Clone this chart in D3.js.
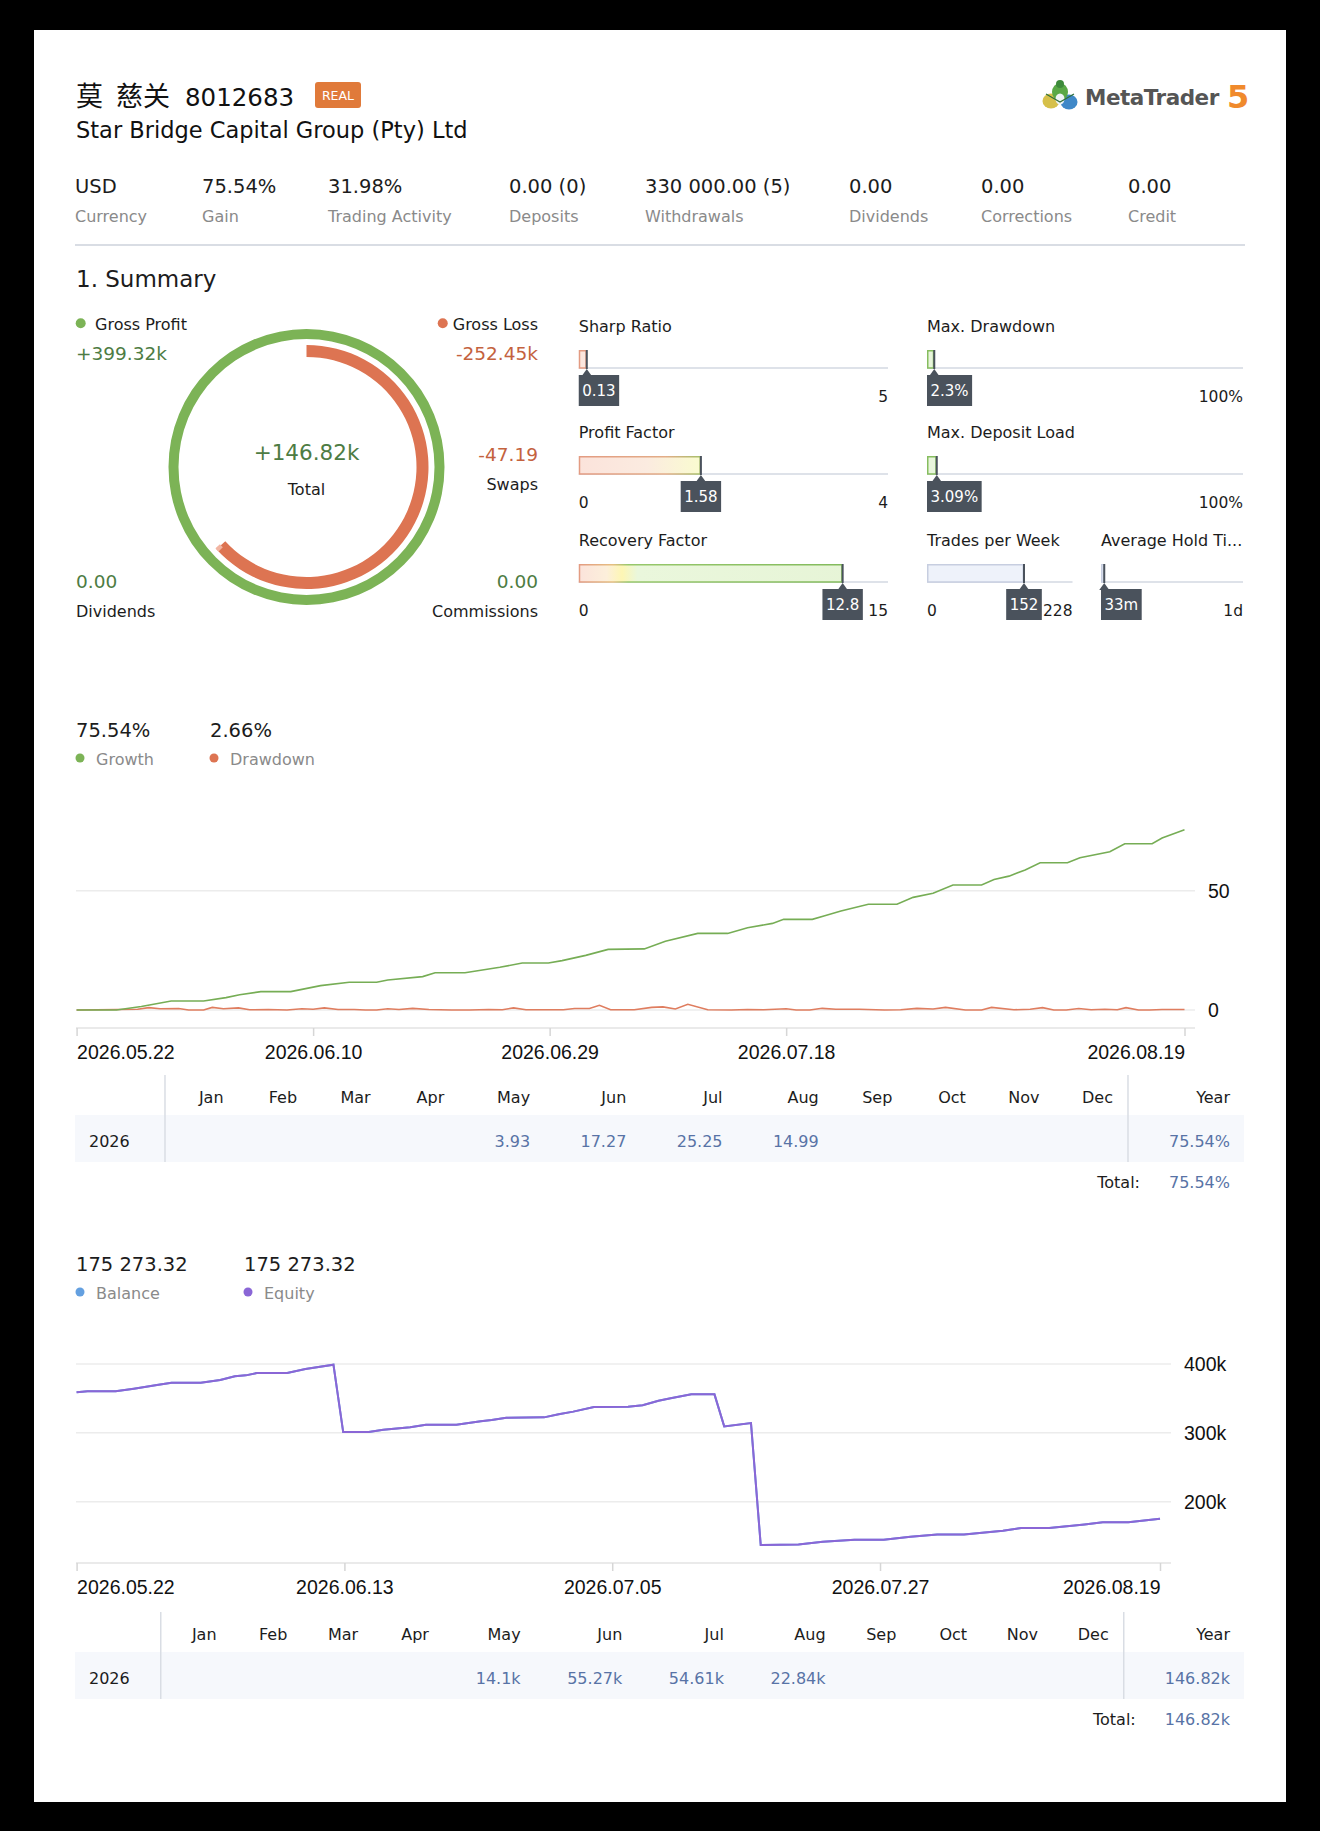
<!DOCTYPE html>
<html>
<head>
<meta charset="utf-8">
<script src="https://cdn.jsdelivr.net/npm/d3@7"></script>
<style>
  html, body { margin: 0; padding: 0; background: #000; }
  svg { display: block; }
  text { font-family: "DejaVu Sans", "Noto Sans CJK SC", sans-serif; }
  .axis text { font-family: "Liberation Sans", Arial, sans-serif; }
</style>
</head>
<body>
<svg id="svg" width="1320" height="1831"></svg>
<script>
// ── Data ──────────────────────────────────────────────────────────────────────

const accountName = ['莫', '慈关'];
const accountId   = '8012683';
const brokerName  = 'Star Bridge Capital Group (Pty) Ltd';

const statValues = ['USD', '75.54%', '31.98%', '0.00 (0)', '330 000.00 (5)', '0.00', '0.00', '0.00'];
const statLabels = ['Currency', 'Gain', 'Trading Activity', 'Deposits', 'Withdrawals', 'Dividends', 'Corrections', 'Credit'];

const grossProfit = 399.32;   // thousands
const grossLoss   = -252.45;  // thousands
const totalProfit = 146.82;   // thousands
const swaps       = -47.19;
const dividends   = 0;
const commissions = 0;

const metricNames     = ['Sharp Ratio', 'Profit Factor', 'Recovery Factor', 'Max. Drawdown', 'Max. Deposit Load', 'Trades per Week', 'Average Hold Ti...'];
const metricValues    = [0.13, 1.58, 12.8, 2.3, 3.09, 152, 33];
const metricMax       = [5, 4, 15, 100, 100, 228, 1440];
const metricValueText = ['0.13', '1.58', '12.8', '2.3%', '3.09%', '152', '33m'];
const metricMinText   = ['0', '0', '0', '0', '0', '0', '0'];
const metricMaxText   = ['5', '4', '15', '100%', '100%', '228', '1d'];

const growthFinal   = 75.54;
const drawdownFinal = 2.66;

// day offsets from 2026-05-22
const growthDays   = [0, 3.2, 5.2, 7.6, 10.2, 12, 13.1, 14.8, 17.2, 19.6, 21.9, 24.1, 25, 27.8, 28.8, 31.2, 34, 35.8, 37.9, 39, 40.9, 42.7, 45.6, 47.3, 49.9, 52.3, 53.9, 55.9, 56.8, 59.1, 60.1, 61.4, 63.6, 65.9, 67.2, 68.8, 70.4, 72.7, 73.7, 74.9, 76.2, 77.4, 79.6, 80.6, 83, 84.2, 86.4, 87.2, 89];
const growthValues = [0, 0, 1.5, 3.8, 3.8, 5.2, 6.4, 7.7, 7.7, 10.2, 11.6, 11.6, 12.6, 14, 15.6, 15.6, 17.9, 19.7, 19.7, 20.7, 22.9, 25.4, 25.6, 28.8, 32.1, 32.1, 34.5, 36.3, 38, 38, 39.5, 41.5, 44.3, 44.3, 47.2, 48.9, 52.4, 52.4, 54.7, 56.1, 58.7, 61.7, 61.7, 63.8, 66.3, 69.7, 69.7, 72.1, 75.54];

const drawdownDays   = [0, 4.9, 5.8, 6.7, 8.2, 9, 10.2, 10.9, 11.8, 13, 13.9, 15.4, 16.9, 18.1, 19, 19.9, 21, 22.3, 23.2, 24.1, 25, 25.9, 27, 28.3, 30.1, 31.6, 33.1, 34.2, 35.1, 36.1, 39.1, 40, 41.2, 42, 42.9, 44.8, 46.2, 47.1, 48.1, 49.1, 50.7, 52.6, 53.9, 55.2, 57, 57.8, 58.9, 59.9, 61, 62.9, 64.9, 66.2, 67.5, 68.8, 69.8, 71.4, 72.7, 73.5, 75.3, 76.6, 77.6, 78.5, 79.5, 80.5, 81.5, 82.6, 83.6, 84.3, 85.3, 86.2, 87.2, 89];
const drawdownValues = [0, 0.3, 1.0, 0.5, 0.6, 0, 0, 1.1, 0.5, 0.9, 0.1, 0.2, 0, 0.5, 0.3, 0.9, 0.2, 0.2, 0, 0, 0.5, 0.2, 0.7, 0.2, 0, 0, 0.2, 0.1, 0.9, 0.1, 0.1, 0.6, 0.6, 2.0, 0.1, 0.1, 1.1, 1.3, 0.4, 2.4, 0.1, 0, 0.2, 0.1, 0.5, 0, 0, 0.7, 0.3, 0.3, 0, 0.1, 0.7, 0.4, 1.1, 0, 0, 1.1, 0.1, 0.3, 1.0, 0, 0, 0.6, 0.1, 0.3, 0.1, 1.0, 0, 0, 0.2, 0.2];

const growthTicks = ['2026-05-22', '2026-06-10', '2026-06-29', '2026-07-18', '2026-08-19'];
const growthYTicks = [0, 50];

const months        = ['Jan', 'Feb', 'Mar', 'Apr', 'May', 'Jun', 'Jul', 'Aug', 'Sep', 'Oct', 'Nov', 'Dec'];
const growthMonthly = [null, null, null, null, 3.93, 17.27, 25.25, 14.99, null, null, null, null];
const growthYear    = 75.54;
const growthTotal   = 75.54;

const balanceFinal = 175273.32;
const equityFinal  = 175273.32;

// thousands, day offsets from 2026-05-22
const balanceDays   = [0, 0.9, 3.2, 4.7, 6.6, 7.8, 10.2, 11.8, 13, 13.9, 14.8, 17.3, 18.8, 21.1, 21.9, 24, 25.2, 27.4, 28.7, 31.2, 33.2, 34.1, 35.3, 38.4, 39.6, 40.8, 42.5, 45.3, 46.5, 47.8, 48.8, 50.5, 52.4, 53.2, 55.4, 56.2, 59.3, 61.3, 63.9, 66.3, 68.5, 70.7, 72.9, 76.1, 77.6, 79.9, 82.8, 84.3, 86.4, 89];
const balanceValues = [358.8, 360.3, 360.3, 364.2, 369.5, 372.9, 372.9, 376.8, 382.1, 383.5, 386.9, 386.9, 392.7, 399, 301.2, 301.2, 304.6, 308, 311.9, 311.9, 316.7, 318.6, 322, 322.5, 326.9, 330.8, 337.5, 338, 340, 346.7, 350.1, 355.9, 355.9, 309.4, 314.3, 137, 138, 141.9, 144.8, 144.8, 149.2, 152.5, 152.5, 157.9, 161.7, 161.7, 167, 170, 170, 175.27];
const equityValues  = balanceValues.slice();

const balanceTicks  = ['2026-05-22', '2026-06-13', '2026-07-05', '2026-07-27', '2026-08-19'];
const balanceYTicks = [200, 300, 400];

const profitMonthly = [null, null, null, null, 14.1, 55.27, 54.61, 22.84, null, null, null, null];
const profitYear    = 146.82;
const profitTotal   = 146.82;

// ── Colours ───────────────────────────────────────────────────────────────────

const C = {
  ink: '#1c1c1c', grey: '#8a8a8a', rule: '#d9dde4', grid: '#ececec',
  green: '#7cb356', greenText: '#4d7c43', red: '#dd7452', redText: '#c4623e',
  blueText: '#5873a6', box: '#4a525c', rowBg: '#f6f8fc',
  balance: '#64a0e0', equity: '#8a66d6', orange: '#e07a3a'
};

// ── Setup ─────────────────────────────────────────────────────────────────────

const svg = d3.select('#svg');
svg.append('rect').attr('width', 1320).attr('height', 1831).attr('fill', '#000');
svg.append('rect').attr('x', 34).attr('y', 30).attr('width', 1252).attr('height', 1772).attr('fill', '#fff');
const defs = svg.append('defs');

function label(g, x, y, str, o = {}) {
  return g.append('text').attr('x', x).attr('y', y)
    .attr('font-size', o.size || 16)
    .attr('fill', o.fill || C.ink)
    .attr('text-anchor', o.anchor || 'start')
    .attr('font-weight', o.weight || null)
    .attr('letter-spacing', o.spacing || null)
    .style('font-family', o.family || null)
    .text(str);
}

const measurer = svg.append('text').attr('x', -2000).attr('y', -2000);
function textW(str, size) {
  measurer.attr('font-size', size).text(str);
  return measurer.node().getComputedTextLength();
}

const signed = v => (v > 0 ? '+' : v < 0 ? '-' : '') + Math.abs(v).toFixed(2);
const spaced = d3.formatLocale({ decimal: '.', thousands: ' ', grouping: [3], currency: ['', ''] }).format(',.2f');

// ── Header ────────────────────────────────────────────────────────────────────

const head = svg.append('g');
label(head, 76, 106, accountName[0], { size: 27, fill: '#111' });
label(head, 116, 106, accountName[1], { size: 27, fill: '#111' });
label(head, 185, 106, accountId, { size: 24.5, fill: '#111' });
head.append('rect').attr('x', 315).attr('y', 82).attr('width', 46).attr('height', 26).attr('rx', 3).attr('fill', C.orange);
label(head, 338, 100, 'REAL', { size: 12.5, fill: '#fff', anchor: 'middle' });
label(head, 76, 138, brokerName, { size: 22.5, fill: '#111' });

// logo
const logo = head.append('g');
logo.append('ellipse').attr('cx', 1051).attr('cy', 101).attr('rx', 8.5).attr('ry', 7.5).attr('fill', '#d6c04a');
logo.append('ellipse').attr('cx', 1069).attr('cy', 102).attr('rx', 8.5).attr('ry', 7.5).attr('fill', '#3f88c8');
logo.append('ellipse').attr('cx', 1060).attr('cy', 92).attr('rx', 8).attr('ry', 9).attr('fill', '#5aa846');
logo.append('circle').attr('cx', 1060).attr('cy', 84).attr('r', 4).attr('fill', '#3d8a3a');
logo.append('ellipse').attr('cx', 1060).attr('cy', 99).attr('rx', 4.5).attr('ry', 5.5).attr('fill', '#eef3f6');
logo.append('path').attr('d', 'M1046,94 L1060,102 L1074,94').attr('stroke', '#2f6f3a').attr('stroke-width', 1.2).attr('fill', 'none');
label(logo, 1085, 105, 'MetaTrader', { size: 21.5, fill: '#555', weight: 'bold', spacing: -0.5 });
label(logo, 1227, 108, '5', { size: 32, fill: '#f08a2c', weight: 'bold' });

// stats row
const statX = [75, 202, 328, 509, 645, 849, 981, 1128];
statValues.forEach((v, i) => {
  label(head, statX[i], 193, v, { size: 19.5 });
  label(head, statX[i], 222, statLabels[i], { size: 16, fill: C.grey });
});
head.append('line').attr('x1', 75).attr('x2', 1245).attr('y1', 245).attr('y2', 245)
  .attr('stroke', C.rule).attr('stroke-width', 2);

// ── Summary donut ─────────────────────────────────────────────────────────────

const sum = svg.append('g');
label(sum, 76, 287, '1. Summary', { size: 23 });

const cx = 306.5, cy = 467;
const donut = sum.append('g').attr('transform', `translate(${cx},${cy})`);
const lossAngle = d3.scaleLinear().domain([0, grossProfit]).range([0, 2 * Math.PI]);
donut.append('path')
  .attr('d', d3.arc()({ innerRadius: 128, outerRadius: 138, startAngle: 0, endAngle: 2 * Math.PI }))
  .attr('fill', C.green);
const lossEnd = lossAngle(Math.abs(grossLoss));
donut.append('path')
  .attr('d', d3.arc()({ innerRadius: 110, outerRadius: 122, startAngle: 0, endAngle: lossEnd }))
  .attr('fill', C.red);
donut.append('path')
  .attr('d', d3.arc()({ innerRadius: 116, outerRadius: 122, startAngle: lossEnd - 0.025, endAngle: lossEnd + 0.012 }))
  .attr('fill', '#f2b5a2');

sum.append('circle').attr('cx', 80.7).attr('cy', 323.3).attr('r', 5).attr('fill', C.green);
label(sum, 95, 329.5, 'Gross Profit');
label(sum, 76, 360, signed(grossProfit) + 'k', { size: 18.5, fill: C.greenText });

label(sum, 538, 329.5, 'Gross Loss', { anchor: 'end' });
sum.append('circle').attr('cx', 538 - textW('Gross Loss', 16) - 10).attr('cy', 323.3).attr('r', 5).attr('fill', C.red);
label(sum, 538, 360, signed(grossLoss) + 'k', { size: 18.5, fill: C.redText, anchor: 'end' });

label(sum, cx, 460, signed(totalProfit) + 'k', { size: 21.5, fill: C.greenText, anchor: 'middle' });
label(sum, cx, 495, 'Total', { anchor: 'middle' });

label(sum, 538, 461, signed(swaps), { size: 18.5, fill: C.redText, anchor: 'end' });
label(sum, 538, 490, 'Swaps', { anchor: 'end' });

label(sum, 76, 588, dividends.toFixed(2), { size: 18.5, fill: C.greenText });
label(sum, 76, 617, 'Dividends');
label(sum, 538, 588, commissions.toFixed(2), { size: 18.5, fill: C.greenText, anchor: 'end' });
label(sum, 538, 617, 'Commissions', { anchor: 'end' });

// ── Metric bars ───────────────────────────────────────────────────────────────

const metricSlots = [
  { x0: 578.75, x1: 888, y: 332 },
  { x0: 578.75, x1: 888, y: 438 },
  { x0: 578.75, x1: 888, y: 546 },
  { x0: 927, x1: 1243, y: 332 },
  { x0: 927, x1: 1243, y: 438 },
  { x0: 927, x1: 1072.5, y: 546 },
  { x0: 1101, x1: 1243, y: 546 }
];

function gradient(id, x0, x1, stops) {
  const lg = defs.append('linearGradient').attr('id', id).attr('gradientUnits', 'userSpaceOnUse')
    .attr('x1', x0).attr('x2', x1).attr('y1', 0).attr('y2', 0);
  stops.forEach(([o, c]) => lg.append('stop').attr('offset', o).attr('stop-color', c));
  return `url(#${id})`;
}

const s1 = metricSlots[1], s2 = metricSlots[2];
const metricFill = [
  '#fbe6de',
  gradient('pf-fill', s1.x0, s1.x1, [[0, '#fbe3db'], [0.22, '#fbebe0'], [0.39, '#fafbd0'], [0.6, '#e9f6dd']]),
  gradient('rf-fill', s2.x0, s2.x1, [[0, '#fbe3db'], [0.09, '#fcefdb'], [0.14, '#fdf6b4'], [0.19, '#eaf7dc'], [1, '#e6f4d6']]),
  '#e8f5dc', '#e8f5dc', '#eef2fa', '#eef2fa'
];
const metricStroke = [
  '#e39b82',
  gradient('pf-stroke', s1.x0, s1.x1, [[0, '#e39b82'], [0.28, '#e3ad88'], [0.39, '#a9bf6c'], [0.6, '#86bd5f']]),
  gradient('rf-stroke', s2.x0, s2.x1, [[0, '#e39b82'], [0.11, '#e6bf82'], [0.16, '#98c86c'], [1, '#7fb85a']]),
  '#86bd5f', '#86bd5f', '#c7cee0', '#c7cee0'
];

const metrics = svg.append('g');
metricNames.forEach((name, i) => {
  const s = metricSlots[i];
  const g = metrics.append('g');
  const x = d3.scaleLinear().domain([0, metricMax[i]]).range([s.x0, s.x1]);
  const xv = x(metricValues[i]);
  const top = s.y + 18, track = s.y + 36;

  label(g, s.x0, s.y, name);
  g.append('line').attr('x1', s.x0).attr('x2', s.x1).attr('y1', track).attr('y2', track)
    .attr('stroke', '#d3d8e2').attr('stroke-width', 1.5);
  g.append('rect').attr('x', s.x0 + 0.75).attr('y', top + 0.75)
    .attr('width', Math.max(0, xv - s.x0 - 1.5)).attr('height', track - top - 0.75)
    .attr('fill', metricFill[i]).attr('stroke', metricStroke[i]).attr('stroke-width', 1.5);
  g.append('line').attr('x1', xv).attr('x2', xv).attr('y1', top).attr('y2', track + 1)
    .attr('stroke', C.box).attr('stroke-width', 2);

  const bw = textW(metricValueText[i], 15) + 7;
  const bx = Math.max(s.x0, Math.min(s.x1 - bw, xv - bw / 2));

  // min label only where the value box leaves room for it
  const minW = textW(metricMinText[i], 15.5);
  if (bx > s.x0 + minW + 2) label(g, s.x0, s.y + 70, metricMinText[i], { size: 15.5 });
  label(g, s.x1, s.y + 70, metricMaxText[i], { size: 15.5, anchor: 'end' });

  g.append('path').attr('d', `M${xv},${track + 1}L${xv - 5},${s.y + 44}L${xv + 5},${s.y + 44}Z`).attr('fill', C.box);
  g.append('rect').attr('x', bx).attr('y', s.y + 43).attr('width', bw).attr('height', 31).attr('fill', C.box);
  label(g, bx + bw / 2, s.y + 64, metricValueText[i], { size: 15, fill: '#fff', anchor: 'middle' });
});

// ── Shared chart helpers ──────────────────────────────────────────────────────

const parseDay = d3.utcParse('%Y-%m-%d');
const startDate = parseDay('2026-05-22');
const endDate = parseDay('2026-08-19');
const dayToDate = d => new Date(startDate.getTime() + d * 864e5);

function legend(g, y, items) {
  items.forEach(it => {
    label(g, it.x, y, it.value, { size: 19.5 });
    g.append('circle').attr('cx', it.x + 4).attr('cy', y + 21).attr('r', 4.5).attr('fill', it.color);
    label(g, it.x + 20, y + 28, it.name, { size: 16, fill: C.grey });
  });
}

function timeAxis(g, x, y, ticks, gridRight) {
  g.append('line').attr('x1', 76).attr('x2', gridRight).attr('y1', y).attr('y2', y)
    .attr('stroke', '#e3e3e3').attr('stroke-width', 1.5);
  const ax = g.append('g').attr('class', 'axis').attr('transform', `translate(0,${y})`)
    .call(d3.axisBottom(x).tickValues(ticks.map(parseDay)).tickFormat(d3.utcFormat('%Y.%m.%d'))
      .tickSize(8).tickPadding(9.5));
  ax.select('.domain').remove();
  ax.selectAll('.tick line').attr('stroke', '#d6d6d6').attr('stroke-width', 1.5);
  ax.selectAll('.tick text').attr('font-size', 19.5).attr('fill', '#111')
    .attr('text-anchor', (d, i, n) => i === 0 ? 'start' : i === n.length - 1 ? 'end' : 'middle');
}

function yGrid(g, y, ticks, gridRight, labelX, fmt) {
  g.selectAll(null).data(ticks).join('line')
    .attr('x1', 76).attr('x2', gridRight).attr('y1', d => y(d)).attr('y2', d => y(d))
    .attr('stroke', C.grid).attr('stroke-width', 1.5);
  g.append('g').attr('class', 'axis').selectAll('text').data(ticks).join('text')
    .attr('x', labelX).attr('y', d => y(d)).attr('dy', '0.35em')
    .attr('font-size', 19.5).attr('fill', '#111').text(fmt);
}

function monthTable(g, top, values, fmt, yearText, totalText) {
  const left = 75, right = 1244;
  const yearW = Math.max(115, textW(yearText, 16) + 55);
  const firstW = 206 - yearW;
  const raw = values.map(v => v == null ? 72.5 : Math.max(72.5, textW(fmt(v), 16) + 49));
  const k = (right - left - firstW - yearW) / d3.sum(raw);
  const edges = d3.cumsum(raw.map(w => w * k)).map(e => left + firstW + e);
  const sep1 = left + firstW, sep2 = right - yearW;

  g.append('rect').attr('x', left).attr('y', top + 40).attr('width', right - left).attr('height', 47).attr('fill', C.rowBg);
  [sep1, sep2].forEach(sx => g.append('line').attr('x1', sx).attr('x2', sx).attr('y1', top).attr('y2', top + 87)
    .attr('stroke', C.rule).attr('stroke-width', 1.5));

  months.forEach((m, i) => {
    label(g, edges[i] - 15, top + 28, m, { anchor: 'end' });
    if (values[i] != null) label(g, edges[i] - 15, top + 72, fmt(values[i]), { anchor: 'end', fill: C.blueText });
  });
  label(g, right - 14, top + 28, 'Year', { anchor: 'end' });
  label(g, 89, top + 72, '2026');
  label(g, right - 14, top + 72, yearText, { anchor: 'end', fill: C.blueText });
  label(g, sep2 + 12, top + 113, 'Total:', { anchor: 'end' });
  label(g, right - 14, top + 113, totalText, { anchor: 'end', fill: C.blueText });
}

// ── Growth chart ──────────────────────────────────────────────────────────────

const growth = svg.append('g');
legend(growth, 737, [
  { x: 76, value: growthFinal.toFixed(2) + '%', name: 'Growth', color: C.green },
  { x: 210, value: drawdownFinal.toFixed(2) + '%', name: 'Drawdown', color: C.red }
]);

const xG = d3.scaleUtc().domain([startDate, endDate]).range([76.6, 1184.5]);
const yG = d3.scaleLinear().domain([0, 50]).range([1010, 890.7]);
yGrid(growth, yG, growthYTicks, 1195, 1208, d => d);
timeAxis(growth, xG, 1028, growthTicks, 1195);

const lineG = d3.line().x(d => xG(dayToDate(d[0]))).y(d => yG(d[1]));
growth.append('path').datum(drawdownDays.map((d, i) => [d, drawdownValues[i]]))
  .attr('d', lineG).attr('fill', 'none').attr('stroke', '#df7d5f').attr('stroke-width', 1.6);
growth.append('path').datum(growthDays.map((d, i) => [d, growthValues[i]]))
  .attr('d', lineG).attr('fill', 'none').attr('stroke', '#76ad55').attr('stroke-width', 1.6);

monthTable(growth, 1075, growthMonthly, v => v.toFixed(2), growthYear.toFixed(2) + '%', growthTotal.toFixed(2) + '%');

// ── Balance chart ─────────────────────────────────────────────────────────────

const bal = svg.append('g');
legend(bal, 1271, [
  { x: 76, value: spaced(balanceFinal), name: 'Balance', color: C.balance },
  { x: 244, value: spaced(equityFinal), name: 'Equity', color: C.equity }
]);

const xB = d3.scaleUtc().domain([startDate, endDate]).range([76.6, 1160]);
const yB = d3.scaleLinear().domain([200, 400]).range([1501.7, 1364]);
yGrid(bal, yB, balanceYTicks, 1171, 1184, d => d + 'k');
timeAxis(bal, xB, 1563, balanceTicks, 1171);

const lineB = d3.line().x(d => xB(dayToDate(d[0]))).y(d => yB(d[1]));
bal.append('path').datum(balanceDays.map((d, i) => [d, balanceValues[i]]))
  .attr('d', lineB).attr('fill', 'none').attr('stroke', C.balance).attr('stroke-width', 2);
bal.append('path').datum(balanceDays.map((d, i) => [d, equityValues[i]]))
  .attr('d', lineB).attr('fill', 'none').attr('stroke', C.equity).attr('stroke-width', 2);

const kfmt = v => (+v.toFixed(2)) + 'k';
monthTable(bal, 1612, profitMonthly, kfmt, kfmt(profitYear), kfmt(profitTotal));

measurer.remove();
</script>
</body>
</html>
